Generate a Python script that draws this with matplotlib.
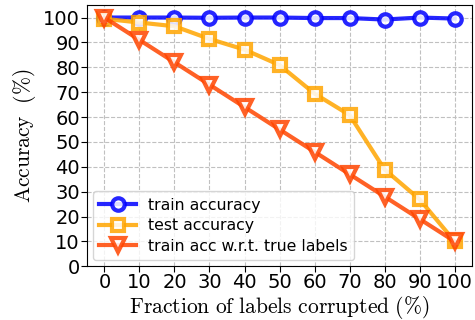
import matplotlib
matplotlib.use('Agg')
import matplotlib.pyplot as plt

plt.rcParams['mathtext.fontset'] = 'cm'

# Daten
fractions = [0, 10, 20, 30, 40, 50, 60, 70, 80, 90, 100]
train_acc = [100, 100, 100, 99.9, 100, 100, 99.8, 99.8, 99.2, 100, 99.6]
test_acc = [99.5, 98.0, 96.5, 91.4, 87.1, 80.9, 69.4, 60.8, 38.9, 26.9, 10.0]
true_acc = [100, 91, 82, 73, 64, 55, 46, 37, 28, 19, 10]

fig, ax = plt.subplots(figsize=(4.75, 3.2), dpi=100)

ax.plot(fractions, train_acc, 'o-', color='#0000ff', alpha=0.85, lw=3,
        ms=9, mew=3, mfc='white', label='train accuracy')
ax.plot(fractions, test_acc, 's-', color='orange', alpha=0.85, lw=3,
        ms=9, mew=3, mfc='white', label='test accuracy')
ax.plot(fractions, true_acc, 'v-', color='orangered', alpha=0.85, lw=3,
        ms=10, mew=3, mfc='white', label='train acc w.r.t. true labels')

ax.set_xlim(-5, 105)
ax.set_ylim(0, 105)
ax.set_xticks(fractions)
ax.set_yticks(range(0, 101, 10))
ax.tick_params(labelsize=14, length=4, pad=1)
ax.grid(True, ls='--', color='#c0c0c0', lw=0.8)

ax.set_xlabel(r'$\mathrm{Fraction\ of\ labels\ corrupted\ (\%)}$', fontsize=15.5,
              labelpad=1)
ax.set_ylabel(r'$\mathrm{Accuracy\ \ (\%)}$', fontsize=15.5, labelpad=4)

ax.legend(loc='lower left', fontsize=11.3, handlelength=2.3,
          borderaxespad=0.4, labelspacing=0.35)

fig.subplots_adjust(left=0.183, right=0.994, top=0.984, bottom=0.168)
fig.savefig('out.png')
